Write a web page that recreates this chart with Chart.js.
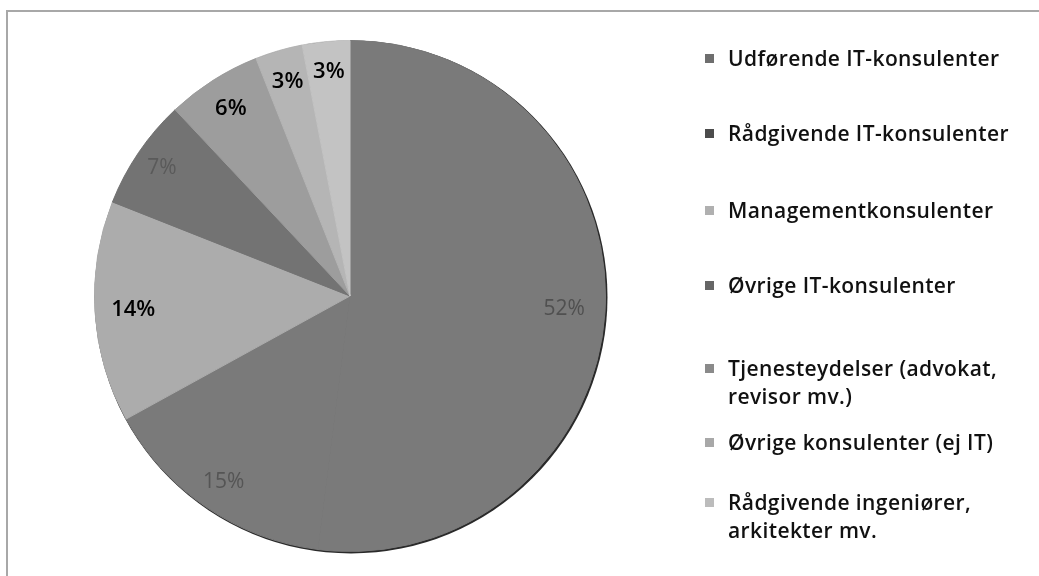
<!DOCTYPE html>
<html>
  <head>
    <meta charset="utf-8">
    <script src="https://cdn.jsdelivr.net/npm/chart.js@4.4.1/dist/chart.umd.min.js"></script>
    <style>
      body { margin: 0; background: #fff; }
      #wrap { position: relative; width: 1039px; height: 576px; overflow: hidden; }
      #frame { position: absolute; left: 6px; top: 10px; right: 0; bottom: -4px;
               border-top: 2px solid #a8a8a8; border-left: 2px solid #a8a8a8; }
      #legend { position: absolute; left: 705px; top: 0; width: 334px;
                font-family: "Open Sans", sans-serif; font-size: 21px; font-weight: 600;
                letter-spacing: 0.4px; color: #111; }
      .item { position: absolute; left: 0; padding-left: 23px; line-height: 28px; }
      .box { position: absolute; left: 0; top: 10px; width: 9px; height: 9px; }
    </style>
  </head>
  <body>
    <div id="wrap">
      <div id="frame"></div>
      <canvas id="chart-area" width="1039" height="576"></canvas>
      <div id="legend"></div>
    </div>

    <script>
      // data
      var categories = [
        "Udførende IT-konsulenter",
        "Rådgivende IT-konsulenter",
        "Managementkonsulenter",
        "Øvrige IT-konsulenter",
        "Tjenesteydelser (advokat, revisor mv.)",
        "Øvrige konsulenter (ej IT)",
        "Rådgivende ingeniører, arkitekter mv."
      ];
      var shares = [52, 15, 14, 7, 6, 3, 3];

      // looks
      var sliceColors = ["#7a7a7a", "#7a7a7a", "#acacac", "#737373", "#9d9d9d", "#b5b5b5", "#c3c3c3"];
      var legendColors = ["#6e6e6e", "#4c4c4c", "#b0b0b0", "#666666", "#8a8a8a", "#a8a8a8", "#bcbcbc"];
      var labelColors = ["#505050", "#555555", "#000000", "#5a5a5a", "#000000", "#000000", "#000000"];
      var labelBold = [false, false, true, false, true, true, true];
      var labelRadius = [0.84, 0.88, 0.85, 0.89, 0.87, 0.875, 0.88];
      var legendTops = [44, 119, 196, 271, 354, 428, 488];
      var legendWidths = [330, 330, 330, 330, 300, 330, 290];

      var edgePlugin = {
        id: 'edge',
        beforeDatasetsDraw: function(chart) {
          var arc = chart.getDatasetMeta(0).data[0];
          if (!arc) return;
          var ctx = chart.ctx;
          ctx.save();
          ctx.fillStyle = '#2a2a2a';
          ctx.beginPath();
          ctx.arc(arc.x + 1, arc.y + 1, arc.outerRadius + 1, 0, Math.PI * 2);
          ctx.fill();
          ctx.restore();
        }
      };

      var labelPlugin = {
        id: 'sliceLabels',
        afterDatasetsDraw: function(chart) {
          var ctx = chart.ctx;
          var meta = chart.getDatasetMeta(0);
          ctx.save();
          ctx.textAlign = 'center';
          ctx.textBaseline = 'middle';
          meta.data.forEach(function(el, i) {
            var p = el.getProps(['x', 'y', 'startAngle', 'endAngle', 'outerRadius'], true);
            var mid = (p.startAngle + p.endAngle) / 2;
            var r = p.outerRadius * labelRadius[i];
            ctx.font = (labelBold[i] ? '600 22px' : '21px') + ' "Open Sans", sans-serif';
            ctx.fillStyle = labelColors[i];
            ctx.fillText(shares[i] + '%', p.x + Math.cos(mid) * r, p.y + Math.sin(mid) * r);
          });
          ctx.restore();
        }
      };

      var ctx = document.getElementById('chart-area').getContext('2d');
      var chart = new Chart(ctx, {
        type: 'pie',
        data: {
          labels: categories,
          datasets: [{
            data: shares,
            backgroundColor: sliceColors,
            borderColor: sliceColors,
            borderWidth: 1
          }]
        },
        options: {
          responsive: false,
          animation: false,
          layout: { padding: { left: 94, right: 433, top: 40, bottom: 24 } },
          plugins: {
            legend: { display: false },
            tooltip: { enabled: false }
          }
        },
        plugins: [edgePlugin, labelPlugin]
      });

      // legend built from the chart's own labels
      var legend = document.getElementById('legend');
      chart.data.labels.forEach(function(lab, i) {
        var item = document.createElement('div');
        item.className = 'item';
        item.style.top = legendTops[i] + 'px';
        item.style.width = legendWidths[i] + 'px';
        var box = document.createElement('span');
        box.className = 'box';
        box.style.background = legendColors[i];
        item.appendChild(box);
        item.appendChild(document.createTextNode(lab));
        legend.appendChild(item);
      });
    </script>
  </body>
</html>
